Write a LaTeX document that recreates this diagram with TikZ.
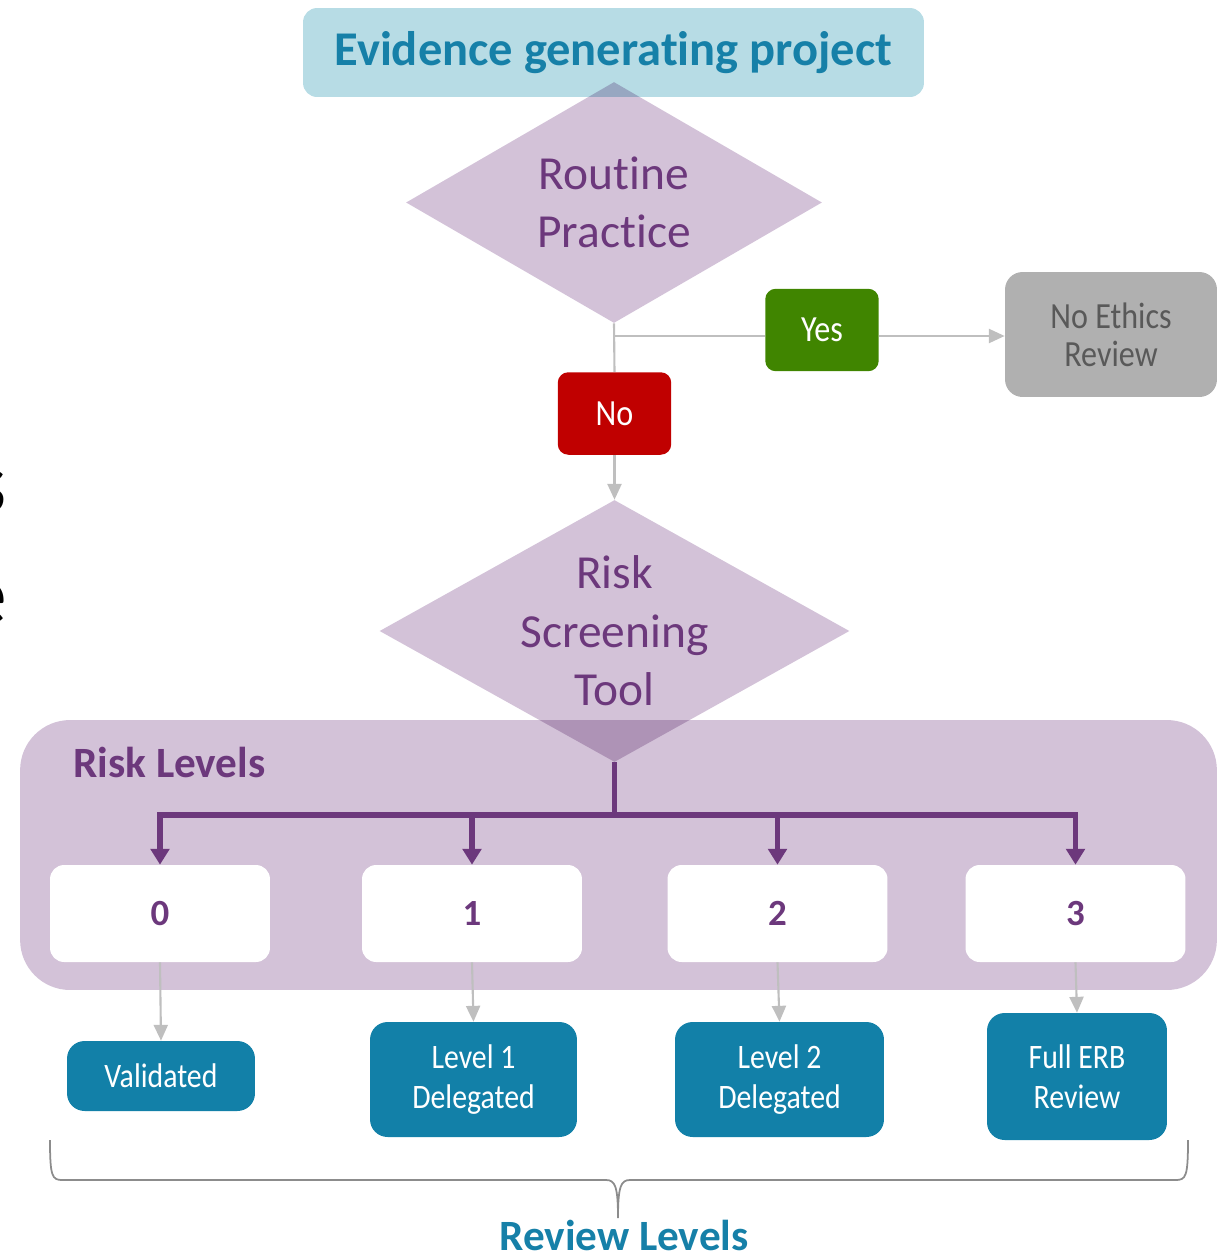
\documentclass[tikz,border=0pt]{standalone}
\usepackage{fontspec}
\setmainfont{Carlito}[Ligatures=NoCommon]
\newfontfamily\narrowfont[FakeStretch=0.87,Ligatures=NoCommon]{Carlito}
\usetikzlibrary{positioning,arrows.meta,shapes.geometric,calc}
\definecolor{projblue}{RGB}{183,220,229}
\definecolor{tealtext}{RGB}{22,128,168}
\definecolor{lilac}{RGB}{211,194,216}
\definecolor{plum}{RGB}{108,56,124}
\definecolor{yesgreen}{RGB}{64,133,0}
\definecolor{nored}{RGB}{192,0,0}
\definecolor{stone}{RGB}{176,176,176}
\definecolor{stonetext}{RGB}{89,89,89}
\definecolor{wire}{RGB}{191,191,191}
\definecolor{revblue}{RGB}{18,128,168}
\tikzset{
flow/.style={x=0.02cm,y=-0.02cm,line join=miter},
box/.style={rectangle,rounded corners=#1,inner sep=0pt,align=center},
box/.default=6pt,
decision/.style={diamond,fill=lilac,inner sep=0pt},
decisiontext/.style={align=center,text=plum,font=\fontsize{27}{33.4}\selectfont},
answer/.style={box=6pt,minimum width=2.27cm,minimum height=1.65cm,text=white,
font=\narrowfont\fontsize{21}{25}\selectfont},
risk/.style={box=8pt,fill=white,minimum width=4.4cm,minimum height=1.94cm,text=plum,
font=\bfseries\fontsize{21}{25}\selectfont},
review/.style={box=10pt,fill=revblue,text=white,
font=\narrowfont\fontsize{19.5}{22.5}\selectfont},
wire/.style={draw=wire,line width=1.2pt},
wirearrow/.style={wire,-{Triangle[length=9pt,width=8pt]}},
tree/.style={draw=plum,line width=3.4pt,-{Triangle[length=9pt,width=10.5pt]}},
brace/.style={draw=black!45,line width=1pt},
heading/.style={inner sep=0pt,font=\bfseries\fontsize{24.6}{28}\selectfont}
}

\begin{document}
\begin{tikzpicture}[flow]
\useasboundingbox (0,0) rectangle (1230,1258);

\node[box=8pt,fill=projblue,minimum width=12.42cm,minimum height=1.78cm,text=tealtext,
font=\bfseries\fontsize{27.6}{32}\selectfont] (project) at (613.5,52.5) {Evidence generating project};
\begin{scope}[blend mode=multiply]
\node[decision,minimum width=8.32cm,minimum height=4.82cm] (routine) at (614,202.5) {};
\end{scope}
\node[decisiontext] (routinetext) at (routine.center) {Routine\\Practice};

\node[answer,fill=yesgreen] (yes) at (822,330) {Yes};
\node[answer,fill=nored] (no) at (614.5,413.5) {No};
\node[box=10pt,fill=stone,minimum width=4.24cm,minimum height=2.5cm,text=stonetext,
font=\narrowfont\fontsize{21}{21.5}\selectfont] (noethics) at (1111,334.5) {No Ethics\\Review};

\node[box=1cm,fill=lilac,minimum width=23.94cm,minimum height=5.4cm] (levels) at (618.5,855) {};
\begin{scope}[blend mode=multiply]
\node[decision,minimum width=9.4cm,minimum height=5.24cm] (screening) at (614.5,631) {};
\end{scope}
\node[decisiontext] (screeningtext) at (screening.center) {Risk\\Screening\\Tool};
\node[heading,anchor=base west,text=plum] (levelslabel) at (73,777) {Risk Levels};

\node[risk] (lvl0) at (160,913.5) {0};
\node[risk] (lvl1) at (472,913.5) {1};
\node[risk] (lvl2) at (777.5,913.5) {2};
\node[risk] (lvl3) at (1075.5,913.5) {3};

\node[review,minimum width=3.76cm,minimum height=1.4cm] (validated) at (161,1076) {Validated};
\node[review,minimum width=4.14cm,minimum height=2.3cm] (delegated1) at (473.5,1079.5) {Level 1\\Delegated};
\node[review,minimum width=4.18cm,minimum height=2.3cm] (delegated2) at (779.5,1079.5) {Level 2\\Delegated};
\node[review,minimum width=3.6cm,minimum height=2.54cm] (fullerb) at (1077,1076.5) {Full ERB\\Review};

\coordinate (fork) at (614.5,336);
\coordinate (split) at (614.5,815);
\draw[wire] (routine.south) -- (no.north);
\draw[wire] (fork) -- (fork -| yes.west);
\draw[wirearrow] (fork -| yes.east) -- (fork -| noethics.west);
\draw[wirearrow] (no.south) -- (screening.north);

\draw[draw=plum,line width=3.4pt] (screening.south) -- (split);
\draw[tree] (split) -| (lvl0.north);
\draw[tree] (split) -| (lvl1.north);
\draw[tree] (split) -| (lvl2.north);
\draw[tree] (split) -| (lvl3.north);

\draw[wirearrow] (lvl0.south) -- (validated.north);
\draw[wirearrow] (lvl1.south) -- (delegated1.north);
\draw[wirearrow] (lvl2.south) -- (delegated2.north);
\draw[wirearrow] (lvl3.south) -- (fullerb.north);

\coordinate (braceleft) at (50,1140);
\coordinate (braceright) at (1188,1140);
\coordinate (bracetip) at (618,1218);
\draw[brace] (braceleft) .. controls (50,1176) and (52,1180) .. (62,1180) -- (606,1180)
.. controls (615,1180) and (618,1186) .. (bracetip)
.. controls (618,1186) and (621,1180) .. (630,1180) -- (1176,1180)
.. controls (1186,1180) and (1188,1176) .. (braceright);
\node[heading,anchor=base,text=tealtext] (reviewlabel) at (624,1250) {Review Levels};

\node[anchor=base east,font=\fontsize{50}{60}\selectfont] (fragments) at (13,512) {s};
\node[anchor=base east,font=\fontsize{50}{60}\selectfont] (fragmente) at (13,624) {e};

\end{tikzpicture}
\end{document}
